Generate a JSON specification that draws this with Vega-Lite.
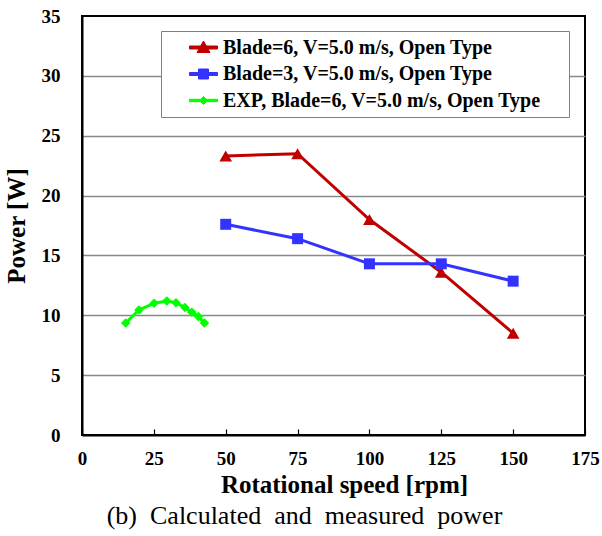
{
  "$schema": "https://vega.github.io/schema/vega-lite/v6.json",
  "width": 503,
  "height": 419,
  "autosize": {"type": "none"},
  "padding": {"left": 82, "top": 16, "right": 17, "bottom": 101},
  "background": "white",
  "config": {
    "font": "Liberation Serif",
    "view": {"stroke": "black", "strokeWidth": 2}
  },
  "title": {
    "text": "(b)\u00a0 Calculated\u00a0 and\u00a0 measured\u00a0 power",
    "orient": "bottom",
    "fontSize": 26,
    "fontWeight": "normal",
    "font": "Liberation Serif",
    "color": "black",
    "offset": 6,
    "dx": -29
  },
  "data": {
    "values": [
      {"series": "Blade=6, V=5.0 m/s, Open Type", "rpm": 50, "power": 23.3},
      {"series": "Blade=6, V=5.0 m/s, Open Type", "rpm": 75, "power": 23.5},
      {"series": "Blade=6, V=5.0 m/s, Open Type", "rpm": 100, "power": 18.0},
      {"series": "Blade=6, V=5.0 m/s, Open Type", "rpm": 125, "power": 13.6},
      {"series": "Blade=6, V=5.0 m/s, Open Type", "rpm": 150, "power": 8.5},
      {"series": "Blade=3, V=5.0 m/s, Open Type", "rpm": 50, "power": 17.6},
      {"series": "Blade=3, V=5.0 m/s, Open Type", "rpm": 75, "power": 16.4},
      {"series": "Blade=3, V=5.0 m/s, Open Type", "rpm": 100, "power": 14.3},
      {"series": "Blade=3, V=5.0 m/s, Open Type", "rpm": 125, "power": 14.3},
      {"series": "Blade=3, V=5.0 m/s, Open Type", "rpm": 150, "power": 12.85},
      {"series": "EXP, Blade=6, V=5.0 m/s, Open Type", "rpm": 15.2, "power": 9.35},
      {"series": "EXP, Blade=6, V=5.0 m/s, Open Type", "rpm": 19.8, "power": 10.45},
      {"series": "EXP, Blade=6, V=5.0 m/s, Open Type", "rpm": 25.1, "power": 11.0},
      {"series": "EXP, Blade=6, V=5.0 m/s, Open Type", "rpm": 29.5, "power": 11.2},
      {"series": "EXP, Blade=6, V=5.0 m/s, Open Type", "rpm": 32.7, "power": 11.05},
      {"series": "EXP, Blade=6, V=5.0 m/s, Open Type", "rpm": 35.8, "power": 10.65},
      {"series": "EXP, Blade=6, V=5.0 m/s, Open Type", "rpm": 38.2, "power": 10.25},
      {"series": "EXP, Blade=6, V=5.0 m/s, Open Type", "rpm": 40.5, "power": 9.9},
      {"series": "EXP, Blade=6, V=5.0 m/s, Open Type", "rpm": 42.6, "power": 9.35}
    ]
  },
  "encoding": {
    "x": {
      "field": "rpm",
      "type": "quantitative",
      "scale": {"domain": [0, 175], "nice": false, "zero": false},
      "axis": {
        "values": [0, 25, 50, 75, 100, 125, 150, 175],
        "title": "Rotational speed [rpm]",
        "grid": false,
        "labelFlush": false,
        "domainColor": "black",
        "domainWidth": 2,
        "tickColor": "black",
        "tickSize": -6,
        "tickWidth": 1.2,
        "labelPadding": 20,
        "labelFontSize": 19,
        "labelFontWeight": "bold",
        "labelColor": "black",
        "labelFont": "Liberation Serif",
        "titleFontSize": 25,
        "titleFontWeight": "bold",
        "titleColor": "black",
        "titleFont": "Liberation Serif",
        "titlePadding": 4,
        "titleX": 262
      }
    },
    "y": {
      "field": "power",
      "type": "quantitative",
      "scale": {"domain": [0, 35], "nice": false, "zero": false},
      "axis": {
        "values": [0, 5, 10, 15, 20, 25, 30, 35],
        "title": "Power [W]",
        "grid": true,
        "labelFlush": false,
        "gridColor": "#888888",
        "gridWidth": 1.3,
        "gridOpacity": {"condition": {"test": "datum.value == 0 || datum.value == 35", "value": 0}, "value": 1},
        "ticks": false,
        "domainColor": "black",
        "domainWidth": 2,
        "labelPadding": 22,
        "labelFontSize": 19,
        "labelFontWeight": "bold",
        "labelColor": "black",
        "labelFont": "Liberation Serif",
        "titleFontSize": 25,
        "titleFontWeight": "bold",
        "titleColor": "black",
        "titleFont": "Liberation Serif",
        "titlePadding": 12
      }
    },
    "color": {
      "field": "series",
      "type": "nominal",
      "sort": ["Blade=6, V=5.0 m/s, Open Type", "Blade=3, V=5.0 m/s, Open Type", "EXP, Blade=6, V=5.0 m/s, Open Type"],
      "scale": {
        "domain": ["Blade=6, V=5.0 m/s, Open Type", "Blade=3, V=5.0 m/s, Open Type", "EXP, Blade=6, V=5.0 m/s, Open Type"],
        "range": ["#C00000", "#3333FF", "#00FF00"]
      },
      "legend": {
        "orient": "none",
        "legendX": 79,
        "legendY": 15,
        "title": "\u00a0",
        "titleOrient": "right",
        "titlePadding": 22,
        "titleFontSize": 8,
        "padding": 6,
        "fillColor": "white",
        "strokeColor": "#808080",
        "symbolSize": 400,
        "symbolOffset": 26,
        "labelOffset": 9,
        "rowPadding": 5.5,
        "labelFontSize": 20,
        "labelFontWeight": "bold",
        "labelFont": "Liberation Serif",
        "labelColor": "black",
        "labelLimit": 500,
        "symbolStrokeWidth": 1,
        "symbolOpacity": 1,
        "labelBaseline": "middle"
      }
    }
  },
  "layer": [
    {
      "mark": {"type": "line", "strokeWidth": 3},
      "encoding": {
        "strokeWidth": {
          "condition": {"test": "datum.series == 'EXP, Blade=6, V=5.0 m/s, Open Type'", "value": 2.5},
          "value": 3
        }
      }
    },
    {
      "transform": [{"filter": "datum.series == 'Blade=6, V=5.0 m/s, Open Type'"}],
      "mark": {"type": "point", "filled": true, "opacity": 1, "shape": "triangle-up", "size": 160}
    },
    {
      "transform": [{"filter": "datum.series == 'Blade=3, V=5.0 m/s, Open Type'"}],
      "mark": {"type": "point", "filled": true, "opacity": 1, "shape": "square", "size": 121}
    },
    {
      "transform": [{"filter": "datum.series == 'EXP, Blade=6, V=5.0 m/s, Open Type'"}],
      "mark": {"type": "point", "filled": true, "opacity": 1, "shape": "diamond", "size": 90}
    },
    {
      "mark": {"type": "point", "filled": true, "opacity": 0},
      "encoding": {
        "shape": {
          "field": "series",
          "type": "nominal",
          "scale": {
            "domain": ["Blade=6, V=5.0 m/s, Open Type", "Blade=3, V=5.0 m/s, Open Type", "EXP, Blade=6, V=5.0 m/s, Open Type"],
            "range": [
              "M-1.4,-0.15H1.4V0.15H-1.4ZM0,-0.65L0.65,0.5H-0.65Z",
              "M-1.4,-0.15H1.4V0.15H-1.4ZM-0.5,-0.5H0.5V0.5H-0.5Z",
              "M-1.4,-0.12H1.4V0.12H-1.4ZM0,-0.4L0.4,0L0,0.4L-0.4,0Z"
            ]
          },
          "legend": {
            "orient": "none",
            "legendX": 79,
            "legendY": 15,
            "title": "\u00a0",
            "titleOrient": "right",
            "titlePadding": 22,
            "titleFontSize": 8,
            "padding": 6,
            "fillColor": "white",
            "strokeColor": "#808080",
            "symbolSize": 400,
            "symbolOffset": 26,
            "labelOffset": 9,
            "rowPadding": 5.5,
            "labelFontSize": 20,
            "labelFontWeight": "bold",
            "labelFont": "Liberation Serif",
            "labelColor": "black",
            "labelLimit": 500,
            "symbolStrokeWidth": 1,
            "symbolOpacity": 1,
            "labelBaseline": "middle"
          }
        }
      }
    }
  ]
}
